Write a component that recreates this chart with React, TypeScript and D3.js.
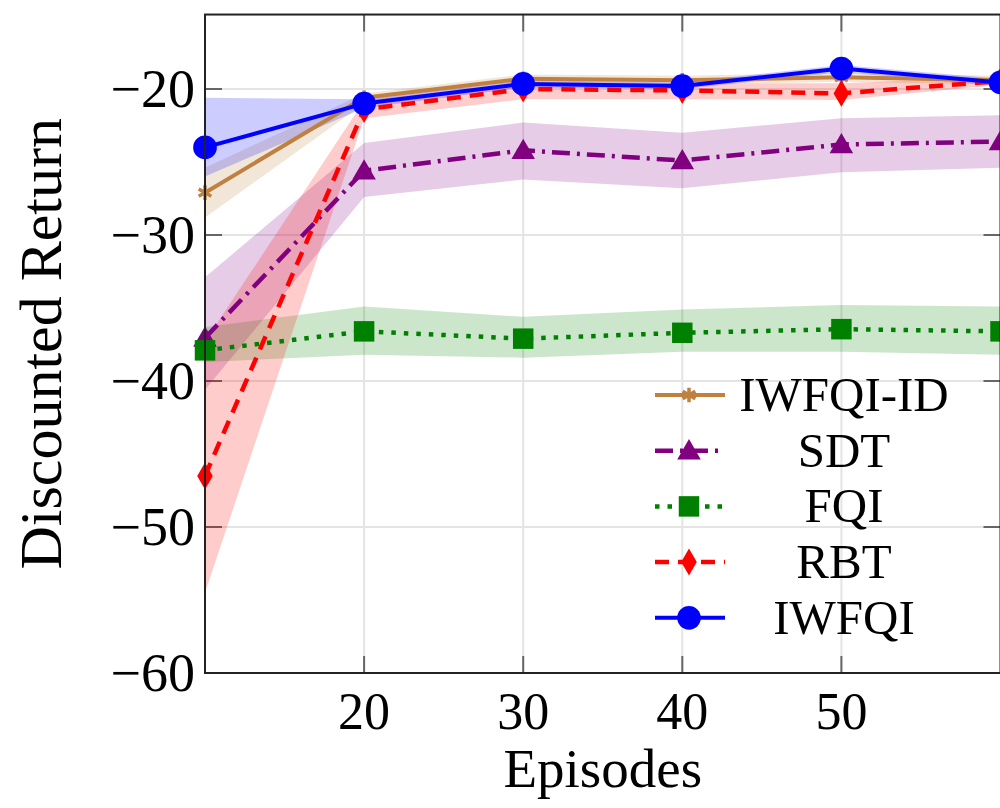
import React from "react";
import * as d3 from "d3";

// episodes on the x axis
const episodes = [10, 20, 30, 40, 50, 60];

// mean / lower / upper discounted return per method
const iwfqiIdMean = [-27.1, -20.6, -19.3, -19.4, -19.2, -19.4];
const iwfqiIdLo = [-28.8, -21.0, -19.6, -19.7, -19.5, -19.7];
const iwfqiIdHi = [-25.4, -20.3, -19.0, -19.1, -18.9, -19.1];

const sdtMean = [-37.05, -25.6, -24.2, -24.9, -23.8, -23.6];
const sdtLo = [-40.6, -27.4, -26.2, -26.8, -25.7, -25.4];
const sdtHi = [-32.9, -23.7, -22.3, -23.0, -22.0, -21.8];

const fqiMean = [-37.9, -36.6, -37.1, -36.7, -36.45, -36.6];
const fqiLo = [-38.7, -38.2, -38.4, -38.0, -38.0, -38.2];
const fqiHi = [-36.3, -34.9, -35.6, -35.1, -34.8, -34.9];

const rbtMean = [-46.5, -21.4, -20.0, -20.1, -20.3, -19.45];
const rbtLo = [-54.5, -22.0, -20.7, -20.7, -20.75, -19.7];
const rbtHi = [-37.3, -20.8, -19.6, -19.6, -19.6, -19.2];

const iwfqiMean = [-24.0, -21.0, -19.65, -19.8, -18.6, -19.55];
const iwfqiLo = [-26.0, -21.3, -19.9, -20.0, -18.85, -19.8];
const iwfqiHi = [-20.6, -20.7, -19.4, -19.55, -18.35, -19.3];

const xTicks = [20, 30, 40, 50];
const yTicks = [-60, -50, -40, -30, -20];

const FONT = "Liberation Serif";

const series = [
  { name: "IWFQI-ID", color: "#bf8040", mean: iwfqiIdMean, lo: iwfqiIdLo, hi: iwfqiIdHi, dash: null, symbol: "star", width: 4 },
  { name: "SDT", color: "#800080", mean: sdtMean, lo: sdtLo, hi: sdtHi, dash: "18 7 3 7", symbol: "triangle", width: 4.5 },
  { name: "FQI", color: "#008000", mean: fqiMean, lo: fqiLo, hi: fqiHi, dash: "4.5 8", symbol: "square", width: 4.5 },
  { name: "RBT", color: "#ff0000", mean: rbtMean, lo: rbtLo, hi: rbtHi, dash: "14 9", symbol: "diamond", width: 4.5 },
  { name: "IWFQI", color: "#0000ff", mean: iwfqiMean, lo: iwfqiLo, hi: iwfqiHi, dash: null, symbol: "circle", width: 4 },
];

function Marker({ kind, color, x, y }) {
  if (kind === "star") {
    const p = d3.symbol(d3.symbolAsterisk, 150)();
    return <path d={p} transform={`translate(${x},${y})`} fill="none" stroke={color} strokeWidth={3.5} />;
  }
  const type =
    kind === "circle" ? d3.symbolCircle :
    kind === "square" ? d3.symbolSquare :
    kind === "triangle" ? d3.symbolTriangle : d3.symbolDiamond;
  const size =
    kind === "circle" ? 440 : kind === "square" ? 420 : kind === "triangle" ? 240 : 210;
  const dy = kind === "triangle" ? 2 : 0;
  return <path d={d3.symbol(type, size)()} transform={`translate(${x},${y + dy})`} fill={color} />;
}

export default function App() {
  const x = d3.scaleLinear().domain([10, 60]).range([205, 1000.5]);
  const y = d3.scaleLinear().domain([-60, -20]).range([673, 89]);
  const left = x(10);
  const right = x(60);
  const top = y(-14.9);
  const bottom = y(-60);

  const line = (vals) =>
    d3.line().x((d, i) => x(episodes[i])).y((d) => y(d))(vals);
  const band = (lo, hi) =>
    d3
      .area()
      .x((d, i) => x(episodes[i]))
      .y0((d, i) => y(lo[i]))
      .y1((d, i) => y(hi[i]))(lo);

  const legendX = 655;
  const legendY = 395;
  const legendStep = 55.7;

  return (
    <svg width={1000} height={808} style={{ position: "absolute", left: 0, top: 0, background: "#fff" }}>
      <defs>
        <clipPath id="plot">
          <rect x={left} y={top} width={right - left} height={bottom - top} />
        </clipPath>
      </defs>

      {/* grid */}
      {xTicks.map((t) => (
        <line key={"gx" + t} x1={x(t)} x2={x(t)} y1={top} y2={bottom} stroke="#e4e4e4" strokeWidth={2} />
      ))}
      {yTicks.map((t) => (
        <line key={"gy" + t} x1={left} x2={right} y1={y(t)} y2={y(t)} stroke="#e4e4e4" strokeWidth={2} />
      ))}

      {/* ticks, mirrored inside the frame */}
      {xTicks.map((t) => (
        <g key={"tx" + t} stroke="#666" strokeWidth={2}>
          <line x1={x(t)} x2={x(t)} y1={bottom} y2={bottom - 17} />
          <line x1={x(t)} x2={x(t)} y1={top} y2={top + 17} />
        </g>
      ))}
      {yTicks.map((t) => (
        <g key={"ty" + t} stroke="#666" strokeWidth={2}>
          <line x1={left} x2={left + 17} y1={y(t)} y2={y(t)} />
          <line x1={right - 17} x2={right} y1={y(t)} y2={y(t)} />
        </g>
      ))}

      {/* bands */}
      <g clipPath="url(#plot)">
        {series.map((s) => (
          <path key={"b" + s.name} d={band(s.lo, s.hi)} fill={s.color} fillOpacity={0.2} />
        ))}
      </g>

      {/* lines + markers */}
      {series.map((s) => (
        <path
          key={"l" + s.name}
          d={line(s.mean)}
          fill="none"
          stroke={s.color}
          strokeWidth={s.width}
          strokeDasharray={s.dash || undefined}
          strokeLinejoin="round"
        />
      ))}
      {series.map((s) =>
        s.mean.map((v, i) => (
          <Marker key={"m" + s.name + i} kind={s.symbol} color={s.color} x={x(episodes[i])} y={y(v)} />
        ))
      )}

      <rect x={left} y={top} width={right - left} height={bottom - top} fill="none" stroke="#222" strokeWidth={2} />

      {/* tick labels */}
      {xTicks.map((t) => (
        <text key={"xl" + t} x={x(t)} y={729} textAnchor="middle" fontFamily={FONT} fontSize={52}>
          {t}
        </text>
      ))}
      {yTicks.map((t) => (
        <text key={"yl" + t} x={195} y={y(t) + 18} textAnchor="end" fontFamily={FONT} fontSize={54}>
          {"\u2212" + Math.abs(t)}
        </text>
      ))}

      {/* axis titles */}
      <text x={(left + right) / 2} y={787} textAnchor="middle" fontFamily={FONT} fontSize={55}>
        Episodes
      </text>
      <text
        transform={`translate(61, ${(top + bottom) / 2}) rotate(-90)`}
        textAnchor="middle"
        fontFamily={FONT}
        fontSize={60}
      >
        Discounted Return
      </text>

      {/* legend */}
      {series.map((s, i) => {
        const ly = legendY + i * legendStep;
        return (
          <g key={"lg" + s.name}>
            <line
              x1={legendX}
              x2={legendX + 70}
              y1={ly}
              y2={ly}
              stroke={s.color}
              strokeWidth={s.width}
              strokeDasharray={s.dash || undefined}
            />
            <Marker kind={s.symbol} color={s.color} x={legendX + 34} y={ly} />
            <text x={844} y={ly + 16} textAnchor="middle" fontFamily={FONT} fontSize={49}>
              {s.name}
            </text>
          </g>
        );
      })}
    </svg>
  );
}
